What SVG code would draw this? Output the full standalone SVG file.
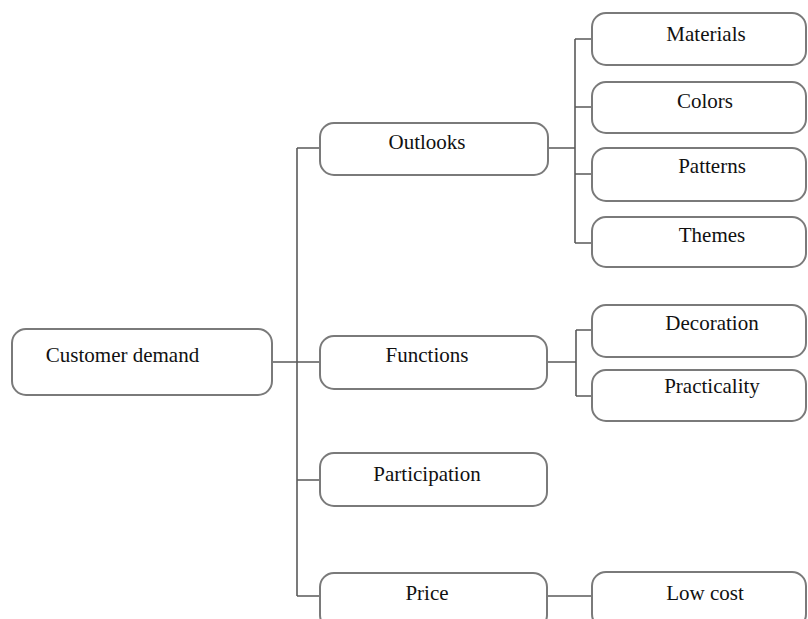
<svg xmlns="http://www.w3.org/2000/svg" width="808" height="619" viewBox="0 0 808 619">
<style>
.box{fill:#fff;stroke:#7a7a7a;stroke-width:2}
.lbl{font-family:"Liberation Serif","Times New Roman",serif;font-size:21px;fill:#111;text-anchor:middle}
.con{fill:none;stroke:#5a5a5a;stroke-width:1.6}
</style>
<rect width="808" height="619" fill="#fff"/>
<g id="connectors">
<path class="con" d="M272,362H320M297,148V596M297,148H320M297,480H320M297,596H320"/>
<path class="con" d="M548,148H575M575,39V243M575,39H592M575,107H592M575,174H592M575,243H592"/>
<path class="con" d="M547,362H576M576,330V396M576,330H592M576,396H592"/>
<path class="con" d="M547,596H592"/>
</g>
<g id="customer-demand"><rect class="box" x="12" y="329" width="260" height="66" rx="14"/><text class="lbl" x="122.5" y="362">Customer demand</text></g>
<g id="outlooks"><rect class="box" x="320" y="123" width="228" height="52" rx="14"/><text class="lbl" x="427" y="149">Outlooks</text></g>
<g id="functions"><rect class="box" x="320" y="336" width="227" height="53" rx="14"/><text class="lbl" x="427" y="362">Functions</text></g>
<g id="participation"><rect class="box" x="320" y="453" width="227" height="53" rx="14"/><text class="lbl" x="427" y="481">Participation</text></g>
<g id="price"><rect class="box" x="320" y="573" width="227" height="56" rx="14"/><text class="lbl" x="427" y="600">Price</text></g>
<g id="materials"><rect class="box" x="592" y="13" width="214" height="52" rx="14"/><text class="lbl" x="706" y="41">Materials</text></g>
<g id="colors"><rect class="box" x="592" y="82" width="214" height="51" rx="14"/><text class="lbl" x="705" y="108">Colors</text></g>
<g id="patterns"><rect class="box" x="592" y="148" width="214" height="53" rx="14"/><text class="lbl" x="712" y="173">Patterns</text></g>
<g id="themes"><rect class="box" x="592" y="217" width="214" height="50" rx="14"/><text class="lbl" x="712" y="242">Themes</text></g>
<g id="decoration"><rect class="box" x="592" y="305" width="214" height="52" rx="14"/><text class="lbl" x="712" y="330">Decoration</text></g>
<g id="practicality"><rect class="box" x="592" y="370" width="214" height="51" rx="14"/><text class="lbl" x="712" y="393">Practicality</text></g>
<g id="low-cost"><rect class="box" x="592" y="572" width="214" height="56" rx="14"/><text class="lbl" x="705" y="600">Low cost</text></g>
</svg>
